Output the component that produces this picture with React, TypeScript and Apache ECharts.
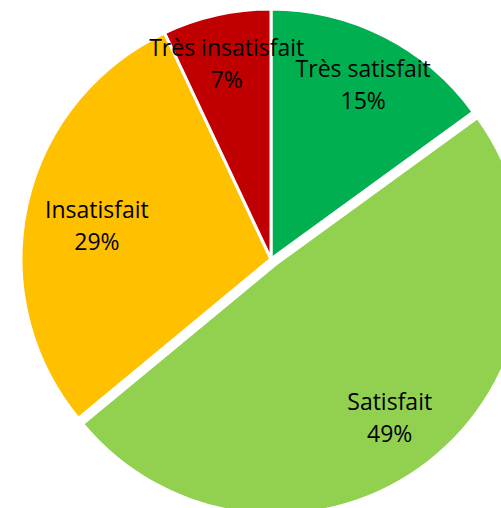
import React, { useEffect, useRef } from "react";
import * as echarts from "echarts";

const categories = ["Très satisfait", "Satisfait", "Insatisfait", "Très insatisfait"];
const values = [15, 49, 29, 7];
const colors = ["#00B050", "#92D050", "#FFC000", "#C00000"];
const exploded = [false, true, false, false];
const labelNudge = [
  [0, 6],
  [-10, -8],
  [24, 10],
  [0, 2],
];

export default function App() {
  const ref = useRef<HTMLDivElement>(null);
  useEffect(() => {
    document.body.style.margin = "0";
    const chart = echarts.init(ref.current!, null, { renderer: "svg" });
    const center = [271, 259];
    const R = 250;
    const mainData = categories.map((c, i) => ({
      name: c,
      value: values[i],
      selected: exploded[i],
      itemStyle: { color: colors[i] },
    }));
    const labelData = categories.map((c, i) => ({
      name: c,
      value: values[i],
      selected: exploded[i],
      itemStyle: { color: "transparent", borderWidth: 0 },
    }));
    chart.setOption({
      animation: false,
      series: [
        {
          type: "pie",
          center,
          radius: [0, R],
          startAngle: 90,
          clockwise: true,
          selectedMode: "single",
          selectedOffset: 7,
          silent: true,
          itemStyle: { borderColor: "#fff", borderWidth: 3 },
          label: { show: false },
          labelLine: { show: false },
          emphasis: { disabled: true },
          data: mainData,
        },
        {
          type: "pie",
          center,
          radius: [R * 0.6, R],
          startAngle: 90,
          clockwise: true,
          selectedMode: "single",
          selectedOffset: 7,
          silent: true,
          label: {
            show: true,
            position: "inside",
            formatter: "{b}\n{d}%",
            fontFamily: "Open Sans",
            fontSize: 23,
            lineHeight: 32,
            color: "#000",
          },
          labelLayout: (p: any) => ({
            dx: labelNudge[p.dataIndex][0],
            dy: labelNudge[p.dataIndex][1],
          }),
          labelLine: { show: false },
          emphasis: { disabled: true },
          data: labelData,
        },
      ],
    });
    return () => chart.dispose();
  }, []);
  return <div ref={ref} style={{ width: 501, height: 508 }} />;
}
